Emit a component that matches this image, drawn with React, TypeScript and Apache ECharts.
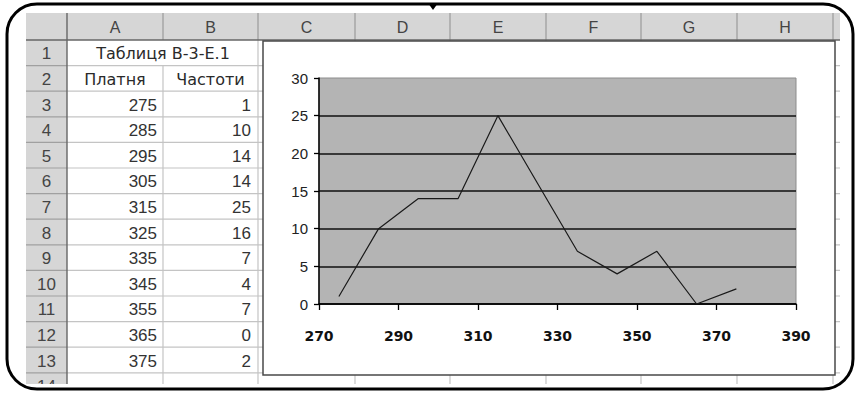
import React, { useEffect, useRef } from "react";
import * as echarts from "echarts";

const columnLetters = ["A", "B", "C", "D", "E", "F", "G", "H"];
const rowNumbers = ["1", "2", "3", "4", "5", "6", "7", "8", "9", "10", "11", "12", "13", "14"];
const tableTitle = "Таблиця B-3-E.1";
const tableHeaders = ["Платня", "Частоти"];
const wages = [275, 285, 295, 305, 315, 325, 335, 345, 355, 365, 375];
const frequencies = [1, 10, 14, 14, 25, 16, 7, 4, 7, 0, 2];

// layout (pixels)
const colEdges = [26, 67, 163, 258, 355, 450, 546, 641, 737, 833, 840];
const headTop = 13;
const headBottom = 40;
const rowH = 25.6;
const sheetBottom = 384;

function buildGraphics() {
  const g: any[] = [];
  const Z = -5;
  const sheetRight = colEdges[colEdges.length - 1];
  g.push({ type: "rect", z: Z, shape: { x: colEdges[0], y: headTop, width: sheetRight - colEdges[0], height: sheetBottom - headTop }, style: { fill: "#ffffff" } });
  g.push({ type: "rect", z: Z, shape: { x: colEdges[0], y: headTop, width: sheetRight - colEdges[0], height: headBottom - headTop }, style: { fill: "#d6d6d6" } });
  g.push({ type: "rect", z: Z, shape: { x: colEdges[0], y: headBottom, width: colEdges[1] - colEdges[0], height: sheetBottom - headBottom }, style: { fill: "#d6d6d6" } });
  for (let i = 1; i <= 13; i++) {
    const y = headBottom + i * rowH;
    g.push({ type: "line", z: Z, shape: { x1: colEdges[1], y1: y, x2: sheetRight, y2: y }, style: { stroke: "#c4c4c4", lineWidth: 1.2 } });
    g.push({ type: "line", z: Z, shape: { x1: colEdges[0], y1: y, x2: colEdges[1], y2: y }, style: { stroke: "#a0a0a0", lineWidth: 1.2 } });
  }
  for (let c = 2; c < colEdges.length - 1; c++) {
    const x = colEdges[c];
    const startY = c === 2 ? headBottom + rowH : headBottom;
    g.push({ type: "line", z: Z, shape: { x1: x, y1: startY, x2: x, y2: sheetBottom }, style: { stroke: "#c4c4c4", lineWidth: 1.2 } });
    g.push({ type: "line", z: Z, shape: { x1: x, y1: headTop, x2: x, y2: headBottom }, style: { stroke: "#9a9a9a", lineWidth: 1.2 } });
  }
  g.push({ type: "line", z: Z, shape: { x1: colEdges[0], y1: headBottom, x2: sheetRight, y2: headBottom }, style: { stroke: "#666", lineWidth: 1.6 } });
  g.push({ type: "line", z: Z, shape: { x1: colEdges[1], y1: headTop, x2: colEdges[1], y2: sheetBottom }, style: { stroke: "#666", lineWidth: 1.4 } });

  const txt = (text: string, x: number, y: number, align: string, color: string, family: string, size: number) => ({
    type: "text", z: Z, x, y,
    style: { text, fill: color, fontSize: size, fontFamily: family, align, verticalAlign: "middle", textAlign: align, textVerticalAlign: "middle" },
  });
  const NUM = "Liberation Sans";
  const WORD = "DejaVu Sans";
  columnLetters.forEach((l, i) => {
    g.push(txt(l, (colEdges[i + 1] + colEdges[i + 2]) / 2, (headTop + headBottom) / 2 + 1, "center", "#444", NUM, 16));
  });
  rowNumbers.forEach((r, i) => {
    g.push(txt(r, (colEdges[0] + colEdges[1]) / 2, headBottom + i * rowH + rowH / 2 + 1, "center", "#444", NUM, 17));
  });
  g.push(txt(tableTitle, colEdges[2], headBottom + rowH / 2 + 1, "center", "#2a2a2a", WORD, 16));
  g.push(txt(tableHeaders[0], (colEdges[1] + colEdges[2]) / 2, headBottom + rowH * 1.5 + 1, "center", "#2a2a2a", WORD, 16));
  g.push(txt(tableHeaders[1], (colEdges[2] + colEdges[3]) / 2, headBottom + rowH * 1.5 + 1, "center", "#2a2a2a", WORD, 16));
  wages.forEach((w, i) => {
    const y = headBottom + (i + 2) * rowH + rowH / 2 + 1;
    g.push(txt(String(w), colEdges[2] - 6, y, "right", "#333", NUM, 17));
    g.push(txt(String(frequencies[i]), colEdges[3] - 7, y, "right", "#333", NUM, 17));
  });
  g.push({ type: "rect", z: -4, shape: { x: 0, y: sheetBottom, width: 856, height: 20 }, style: { fill: "#ffffff" } });
  g.push({ type: "rect", z: -1, shape: { x: 263, y: 41, width: 572, height: 334 }, style: { fill: "#ffffff", stroke: "#4a4a4a", lineWidth: 1.5 } });
  g.push({ type: "rect", z: 10, shape: { x: 7, y: 4, width: 846, height: 385, r: 30 }, style: { fill: "none", stroke: "#000", lineWidth: 3 } });
  g.push({ type: "polygon", z: 10, shape: { points: [[428, 3], [438, 3], [433, 10]] }, style: { fill: "#000" } });
  return g;
}

export default function App() {
  const ref = useRef<HTMLDivElement>(null);
  useEffect(() => {
    document.body.style.margin = "0";
    if (!ref.current) return;
    const chart = echarts.init(ref.current, null, { renderer: "svg" });
    chart.setOption({
      animation: false,
      backgroundColor: "#ffffff",
      graphic: { elements: buildGraphics() },
      grid: {
        left: 319, top: 78, width: 477, height: 226,
        show: true, backgroundColor: "#b4b4b4", borderColor: "#8c8c8c", borderWidth: 1,
        outerBoundsMode: "none",
      },
      xAxis: {
        type: "value", min: 270, max: 390, interval: 20,
        axisLine: { show: true, lineStyle: { color: "#000", width: 1.5 } },
        axisTick: { show: true, length: 6, lineStyle: { color: "#000", width: 1.3 } },
        axisLabel: { margin: 25, fontFamily: "DejaVu Sans", fontWeight: "bold", fontSize: 14, color: "#111" },
        splitLine: { show: false },
      },
      yAxis: {
        type: "value", min: 0, max: 30, interval: 5,
        axisLine: { show: true, lineStyle: { color: "#000", width: 1.5 } },
        axisTick: { show: true, length: 5, lineStyle: { color: "#000", width: 1.3 } },
        axisLabel: { margin: 11, fontFamily: "Liberation Sans", fontSize: 15, color: "#222" },
        splitLine: { show: true, showMaxLine: false, lineStyle: { color: "#111", width: 1.5 } },
      },
      series: [{
        type: "line",
        data: wages.map((w, i) => [w, frequencies[i]]),
        symbol: "none",
        lineStyle: { color: "#1a1a1a", width: 1.2 },
      }],
    });
    return () => chart.dispose();
  }, []);
  return <div ref={ref} style={{ width: 856, height: 393 }} />;
}
